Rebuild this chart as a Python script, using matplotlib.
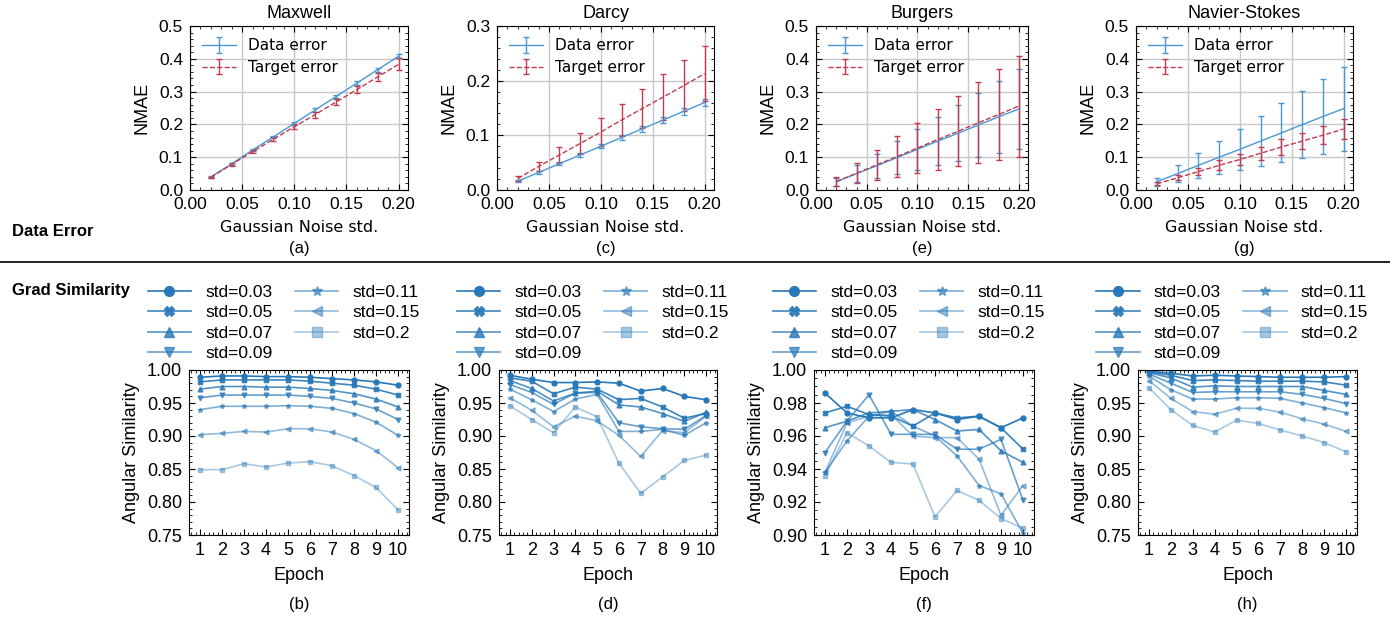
import numpy as np
import matplotlib
matplotlib.use('Agg')
import matplotlib.pyplot as plt
from matplotlib.ticker import AutoMinorLocator, MultipleLocator
from matplotlib.lines import Line2D

plt.rcParams['font.family'] = ['Liberation Sans', 'DejaVu Sans']
plt.rcParams['font.size'] = 12

# ---- top row: NMAE vs noise std ----
noise = [0.02, 0.04, 0.06, 0.08, 0.10, 0.12, 0.14, 0.16, 0.18, 0.20]
titles = ['Maxwell', 'Darcy', 'Burgers', 'Navier-Stokes']

maxwell_data = [0.040, 0.080, 0.122, 0.162, 0.203, 0.244, 0.285, 0.326, 0.367, 0.408]
maxwell_data_err = [0.002, 0.003, 0.003, 0.004, 0.004, 0.005, 0.005, 0.005, 0.006, 0.006]
maxwell_target = [0.039, 0.078, 0.117, 0.155, 0.193, 0.230, 0.268, 0.306, 0.345, 0.383]
maxwell_target_err = [0.002, 0.004, 0.005, 0.007, 0.008, 0.009, 0.010, 0.011, 0.013, 0.018]

darcy_data = [0.016, 0.032, 0.048, 0.064, 0.080, 0.096, 0.112, 0.128, 0.144, 0.160]
darcy_data_err = [0.002, 0.002, 0.003, 0.003, 0.004, 0.004, 0.005, 0.005, 0.006, 0.007]
darcy_target = [0.021, 0.043, 0.064, 0.085, 0.106, 0.128, 0.149, 0.170, 0.191, 0.213]
darcy_target_err = [0.005, 0.009, 0.015, 0.020, 0.026, 0.030, 0.036, 0.042, 0.046, 0.050]

burgers_data = [0.025, 0.050, 0.074, 0.099, 0.124, 0.149, 0.173, 0.198, 0.223, 0.247]
burgers_data_err = [0.013, 0.025, 0.037, 0.050, 0.062, 0.074, 0.086, 0.098, 0.110, 0.123]
burgers_target = [0.026, 0.051, 0.077, 0.102, 0.128, 0.154, 0.179, 0.205, 0.230, 0.256]
burgers_target_err = [0.015, 0.030, 0.046, 0.062, 0.076, 0.092, 0.107, 0.123, 0.138, 0.154]

ns_data = [0.025, 0.050, 0.075, 0.100, 0.124, 0.149, 0.174, 0.199, 0.224, 0.248]
ns_data_err = [0.013, 0.025, 0.038, 0.050, 0.063, 0.076, 0.090, 0.102, 0.115, 0.128]
ns_target = [0.019, 0.037, 0.056, 0.075, 0.093, 0.112, 0.131, 0.149, 0.167, 0.186]
ns_target_err = [0.004, 0.008, 0.011, 0.015, 0.017, 0.020, 0.024, 0.025, 0.028, 0.031]

top_ylims = [0.5, 0.3, 0.5, 0.5]
top_letters = ['(a)', '(c)', '(e)', '(g)']

# ---- bottom row: angular similarity vs epoch ----
epochs = [1, 2, 3, 4, 5, 6, 7, 8, 9, 10]
std_labels = ['std=0.03', 'std=0.05', 'std=0.07', 'std=0.09', 'std=0.11', 'std=0.15', 'std=0.2']

maxwell_sim = [
    [0.989, 0.991, 0.991, 0.990, 0.990, 0.989, 0.987, 0.985, 0.982, 0.977],
    [0.982, 0.985, 0.985, 0.985, 0.985, 0.983, 0.980, 0.977, 0.971, 0.962],
    [0.971, 0.975, 0.975, 0.974, 0.974, 0.972, 0.969, 0.964, 0.956, 0.944],
    [0.958, 0.962, 0.962, 0.962, 0.962, 0.960, 0.957, 0.950, 0.941, 0.925],
    [0.940, 0.945, 0.945, 0.945, 0.946, 0.945, 0.942, 0.934, 0.921, 0.901],
    [0.902, 0.904, 0.907, 0.906, 0.911, 0.911, 0.906, 0.895, 0.878, 0.852],
    [0.849, 0.849, 0.858, 0.853, 0.859, 0.861, 0.855, 0.840, 0.822, 0.788],
]
darcy_sim = [
    [0.992, 0.986, 0.981, 0.981, 0.982, 0.980, 0.968, 0.972, 0.960, 0.955],
    [0.988, 0.983, 0.964, 0.974, 0.971, 0.955, 0.957, 0.944, 0.927, 0.934],
    [0.984, 0.972, 0.953, 0.965, 0.968, 0.947, 0.944, 0.934, 0.922, 0.936],
    [0.978, 0.966, 0.948, 0.965, 0.966, 0.920, 0.914, 0.911, 0.910, 0.931],
    [0.971, 0.955, 0.937, 0.956, 0.963, 0.907, 0.907, 0.910, 0.901, 0.920],
    [0.958, 0.939, 0.914, 0.930, 0.923, 0.901, 0.869, 0.908, 0.905, 0.930],
    [0.946, 0.925, 0.905, 0.944, 0.929, 0.859, 0.813, 0.838, 0.863, 0.871],
]
burgers_sim = [
    [0.986, 0.974, 0.971, 0.971, 0.976, 0.974, 0.970, 0.972, 0.965, 0.971],
    [0.974, 0.978, 0.973, 0.972, 0.966, 0.974, 0.971, 0.972, 0.965, 0.952],
    [0.965, 0.969, 0.974, 0.975, 0.976, 0.970, 0.963, 0.964, 0.951, 0.944],
    [0.950, 0.969, 0.985, 0.961, 0.961, 0.961, 0.952, 0.952, 0.958, 0.921],
    [0.938, 0.957, 0.972, 0.975, 0.966, 0.960, 0.948, 0.930, 0.925, 0.901],
    [0.938, 0.968, 0.972, 0.973, 0.960, 0.959, 0.959, 0.946, 0.912, 0.930],
    [0.936, 0.962, 0.954, 0.944, 0.943, 0.911, 0.927, 0.921, 0.910, 0.904],
]
ns_sim = [
    [0.998, 0.995, 0.991, 0.992, 0.991, 0.990, 0.989, 0.989, 0.989, 0.990],
    [0.997, 0.992, 0.984, 0.985, 0.984, 0.983, 0.983, 0.983, 0.982, 0.977],
    [0.996, 0.988, 0.974, 0.976, 0.975, 0.975, 0.975, 0.975, 0.969, 0.963],
    [0.994, 0.980, 0.966, 0.967, 0.967, 0.967, 0.967, 0.963, 0.957, 0.949],
    [0.991, 0.970, 0.956, 0.956, 0.958, 0.958, 0.957, 0.950, 0.943, 0.935],
    [0.984, 0.957, 0.937, 0.933, 0.942, 0.942, 0.936, 0.926, 0.918, 0.907],
    [0.973, 0.940, 0.916, 0.906, 0.924, 0.919, 0.909, 0.900, 0.890, 0.876],
]
bottom_ylims = [(0.75, 1.0), (0.75, 1.0), (0.90, 1.0), (0.75, 1.0)]
bottom_steps = [0.05, 0.05, 0.02, 0.05]
bottom_letters = ['(b)', '(d)', '(f)', '(h)']

markers = ['o', 'X', '^', 'v', '*', '<', 's']
alphas = [1.0, 0.9, 0.8, 0.7, 0.6, 0.5, 0.4]
blue = '#2878b8'
data_color = '#4a98d3'
target_color = '#c23b4f'

W, H = 1390, 617
fig = plt.figure(figsize=(W / 100, H / 100), dpi=100)


def px_axes(l, r, t, b):
    return fig.add_axes([l / W, 1 - b / H, (r - l) / W, (b - t) / H])


def style(ax, size):
    ax.tick_params(which='both', direction='in', top=True, right=True)
    ax.tick_params(which='major', length=4, labelsize=size, pad=5)
    ax.tick_params(which='minor', length=2)
    ax.xaxis.set_minor_locator(AutoMinorLocator())
    ax.yaxis.set_minor_locator(AutoMinorLocator())


top_pos = [(190, 408), (497, 714), (816, 1028), (1136, 1353)]
bot_pos = [(189, 409), (499, 717), (814, 1034), (1138, 1357)]

top_sets = [
    (maxwell_data, maxwell_data_err, maxwell_target, maxwell_target_err),
    (darcy_data, darcy_data_err, darcy_target, darcy_target_err),
    (burgers_data, burgers_data_err, burgers_target, burgers_target_err),
    (ns_data, ns_data_err, ns_target, ns_target_err),
]

for i, (l, r) in enumerate(top_pos):
    ax = px_axes(l, r, 26, 190)
    d, de, t, te = top_sets[i]
    ax.errorbar(noise, d, yerr=de, color=data_color, lw=1.0, capsize=2,
                elinewidth=1.0, label='Data error')
    ax.errorbar(noise, t, yerr=te, color=target_color, lw=1.0, ls='--', capsize=2,
                elinewidth=1.0, label='Target error')
    ax.set_xlim(0, 0.209)
    ax.set_ylim(0, top_ylims[i])
    ax.xaxis.set_major_locator(MultipleLocator(0.05))
    ax.yaxis.set_major_locator(MultipleLocator(0.1))
    ax.xaxis.set_major_formatter(plt.FormatStrFormatter('%.2f'))
    ax.yaxis.set_major_formatter(plt.FormatStrFormatter('%.1f'))
    ax.grid(True, color='#c8c8c8', lw=1.0)
    ax.set_axisbelow(True)
    style(ax, 12.5)
    ax.set_title(titles[i], fontsize=13, pad=6)
    ax.set_ylabel('NMAE', fontsize=13, labelpad=6)
    ax.set_xlabel('Gaussian Noise std.', fontsize=11.5, family='DejaVu Sans', labelpad=6)
    ax.legend(loc='upper left', frameon=False, prop={'family': 'DejaVu Sans', 'size': 11},
              handlelength=2.2, borderaxespad=0.4, labelspacing=0.45)
    fig.text((l + r) / 2 / W, 1 - 248 / H, top_letters[i], ha='center', va='center', fontsize=12)

bottom_sets = [maxwell_sim, darcy_sim, burgers_sim, ns_sim]
for i, (l, r) in enumerate(bot_pos):
    ax = px_axes(l, r, 370, 535)
    sims = bottom_sets[i]
    for k, ys in enumerate(sims):
        ax.plot(epochs, ys, color=blue, alpha=alphas[k], marker=markers[k],
                ms=3.5, lw=1.2, label=std_labels[k])
    ax.set_xlim(0.5, 10.5)
    ax.set_ylim(*bottom_ylims[i])
    ax.set_xticks(epochs)
    ax.yaxis.set_major_locator(MultipleLocator(bottom_steps[i]))
    ax.yaxis.set_major_formatter(plt.FormatStrFormatter('%.2f'))
    style(ax, 13)
    ax.xaxis.set_minor_locator(AutoMinorLocator(5))
    ax.set_xlabel('Epoch', fontsize=13, labelpad=6)
    ax.set_ylabel('Angular Similarity', fontsize=13, labelpad=5)
    ax.legend(loc='lower center', bbox_to_anchor=(0.43, 0.96), ncol=2, frameon=False,
              fontsize=12.5, markerscale=2.0, handlelength=2.5, columnspacing=1.3,
              labelspacing=0.3)
    fig.text((l + r) / 2 / W, 1 - 605 / H, bottom_letters[i], ha='center', va='center', fontsize=12)

fig.add_artist(Line2D([0, 1], [1 - 262 / H, 1 - 262 / H], color='black', lw=1.2))
fig.text(12 / W, 1 - 232 / H, 'Data Error', fontweight='bold', fontsize=12, va='center')
fig.text(12 / W, 1 - 290 / H, 'Grad Similarity', fontweight='bold', fontsize=12, va='center')

fig.savefig('out.png', dpi=100)
